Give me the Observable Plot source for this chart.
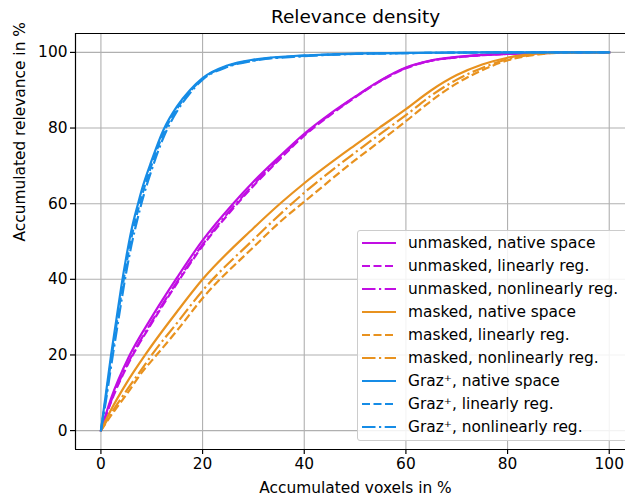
<!DOCTYPE html>
<html>
<head>
<meta charset="utf-8">
<script src="https://cdn.jsdelivr.net/npm/d3@7"></script>
<script src="https://cdn.jsdelivr.net/npm/@observablehq/plot@0.6"></script>
<style>
  html, body { margin: 0; padding: 0; background: white; }
  #wrap { position: relative; width: 625px; height: 497px; overflow: hidden; font-family: "DejaVu Sans", sans-serif; }
  #legend { position: absolute; left: 357px; top: 230px; width: 275px; height: 211px; box-sizing: border-box;
    border: 1px solid #cccccc; border-radius: 3px; background: rgba(255,255,255,0.85); }
  .row { position: absolute; left: 0; height: 20px; display: flex; align-items: center; font-size: 15.4px; color: #000; white-space: nowrap; }
  .row svg { margin-left: 4px; margin-right: 12px; }
</style>
</head>
<body>
<div id="wrap"><div id="chart"></div><div id="legend"></div></div>
<script>
// ---- data ----
const title = "Relevance density";
const xLabel = "Accumulated voxels in %";
const yLabel = "Accumulated relevance in %";
const xTicks = [0, 20, 40, 60, 80, 100];
const yTicks = [0, 20, 40, 60, 80, 100];

const colUnmasked = "#c10ee3";
const colMasked = "#e8921f";
const colGraz = "#168ce6";

const xUnmasked = [0, 2, 5.5, 10, 15, 20, 26, 30, 35, 40, 45, 50, 55, 60, 65, 70, 80, 90, 100];
const unmaskedNative    = [0, 8.5, 19.5, 30, 40.5, 50.3, 60, 65.8, 72.3, 78.5, 83.7, 88.3, 92.6, 96, 97.9, 98.8, 99.6, 99.9, 100];
const unmaskedLinear    = [0, 7.6, 18, 28.4, 39, 48.8, 58.7, 64.7, 71.5, 78, 83.3, 88.1, 92.4, 95.8, 97.8, 98.7, 99.6, 99.9, 100];
const unmaskedNonlinear = [0, 7.8, 18.3, 28.8, 39.4, 49.2, 59.1, 65, 71.8, 78.2, 83.5, 88.2, 92.5, 95.9, 97.8, 98.7, 99.6, 99.9, 100];

const xMasked = [0, 2, 5, 8.7, 10, 15, 20, 30, 35.5, 40, 50, 54.7, 60, 65, 70, 75, 80, 85, 90, 100];
const maskedNative    = [0, 5.5, 12.5, 20, 22.5, 31.5, 40, 53.5, 60.3, 65.4, 75.5, 80, 85, 90, 94, 96.8, 98.6, 99.6, 100, 100];
const maskedLinear    = [0, 4, 9.5, 16.5, 18.5, 26.5, 35, 48.5, 55.5, 60.5, 71.5, 76.3, 81.8, 87.2, 91.8, 95.3, 97.9, 99.3, 99.9, 100];
const maskedNonlinear = [0, 4.5, 10.5, 17.5, 20, 28.5, 37, 50.5, 57.5, 62.9, 73.5, 78.2, 83.4, 88.6, 92.8, 95.9, 98.2, 99.4, 99.9, 100];

const xGraz = [0, 1, 2, 3, 4, 5, 6, 7.3, 8, 10, 12.3, 15, 17.5, 20, 25, 30, 40, 50, 60, 80, 100];
const grazNative    = [0, 10, 20, 29, 38, 46, 53, 60, 63.5, 71.5, 79.5, 85.8, 90, 93.2, 96.6, 98.1, 99.2, 99.7, 99.9, 100, 100];
const grazLinear    = [0, 9, 18.5, 27.5, 36, 44, 51, 58.3, 61.8, 70.3, 78.6, 85.2, 89.6, 93, 96.4, 97.9, 99.1, 99.6, 99.8, 100, 100];
const grazNonlinear = [0, 8, 17, 25.5, 34, 42, 49, 56.5, 60.2, 69, 77.5, 84.5, 89.2, 92.8, 96.2, 97.8, 99, 99.6, 99.8, 100, 100];

const seriesNames = [
  "unmasked, native space", "unmasked, linearly reg.", "unmasked, nonlinearly reg.",
  "masked, native space", "masked, linearly reg.", "masked, nonlinearly reg.",
  "Graz\u207A, native space", "Graz\u207A, linearly reg.", "Graz\u207A, nonlinearly reg."
];

// ---- styles ----
const DASH = "8,3.5";
const DASHDOT = "13.5,3.5,2.2,3.5";
const series = [
  {name: seriesNames[0], xs: xUnmasked, ys: unmaskedNative, color: colUnmasked, dash: null},
  {name: seriesNames[1], xs: xUnmasked, ys: unmaskedLinear, color: colUnmasked, dash: DASH},
  {name: seriesNames[2], xs: xUnmasked, ys: unmaskedNonlinear, color: colUnmasked, dash: DASHDOT},
  {name: seriesNames[3], xs: xMasked, ys: maskedNative, color: colMasked, dash: null},
  {name: seriesNames[4], xs: xMasked, ys: maskedLinear, color: colMasked, dash: DASH},
  {name: seriesNames[5], xs: xMasked, ys: maskedNonlinear, color: colMasked, dash: DASHDOT},
  {name: seriesNames[6], xs: xGraz, ys: grazNative, color: colGraz, dash: null},
  {name: seriesNames[7], xs: xGraz, ys: grazLinear, color: colGraz, dash: DASH},
  {name: seriesNames[8], xs: xGraz, ys: grazNonlinear, color: colGraz, dash: DASHDOT}
];

const gridStyle = {stroke: "#b0b0b0", strokeOpacity: 1, strokeWidth: 1.1};
const lineMarks = series.map(s => Plot.line(
  s.ys.map((v, i) => ({x: s.xs[i], y: v})),
  {x: "x", y: "y", stroke: s.color, strokeWidth: 2.2, strokeDasharray: s.dash || undefined,
   strokeLinecap: s.dash ? "butt" : "square", curve: "monotone-x"}
));

const chart = Plot.plot({
  width: 625,
  height: 497,
  marginLeft: 75,
  marginRight: 0,
  marginTop: 33,
  marginBottom: 48,
  style: {fontFamily: "DejaVu Sans", fontSize: "15.4px", background: "white", color: "black"},
  x: {domain: [-5, 103.2]},
  y: {domain: [-5, 105]},
  marks: [
    Plot.gridX(xTicks, gridStyle),
    Plot.gridY(yTicks, gridStyle),
    ...lineMarks,
    Plot.ruleX([-5], {stroke: "black", strokeWidth: 1.2}),
    Plot.ruleY([-5], {stroke: "black", strokeWidth: 1.2}),
    Plot.ruleY([105], {stroke: "black", strokeWidth: 1.2}),
    Plot.axisX(xTicks, {tickSize: 5, tickPadding: 4, fontSize: 15.4, label: null, strokeWidth: 1.2}),
    Plot.axisY(yTicks, {tickSize: 5, tickPadding: 3, fontSize: 15.4, label: null, strokeWidth: 1.2}),
    Plot.text([title], {frameAnchor: "top", dx: 5, dy: -16, fontSize: 18.5, lineAnchor: "middle"}),
    Plot.text([xLabel], {frameAnchor: "bottom", dx: 5, dy: 39, fontSize: 15.4, lineAnchor: "middle"}),
    Plot.text([yLabel], {frameAnchor: "left", dx: -55, rotate: -90, fontSize: 15.4, lineAnchor: "middle"})
  ]
});
document.getElementById("chart").appendChild(chart);

// ---- legend ----
const legend = document.getElementById("legend");
series.forEach((s, i) => {
  const row = document.createElement("div");
  row.className = "row";
  row.style.top = (2 + i * 22.95) + "px";
  const dash = s.dash ? ` stroke-dasharray="${s.dash}"` : "";
  row.innerHTML = `<svg width="34" height="6"><line x1="0" y1="3" x2="34" y2="3" stroke="${s.color}" stroke-width="2.2"${dash}/></svg><span>${s.name}</span>`;
  legend.appendChild(row);
});
</script>
</body>
</html>
